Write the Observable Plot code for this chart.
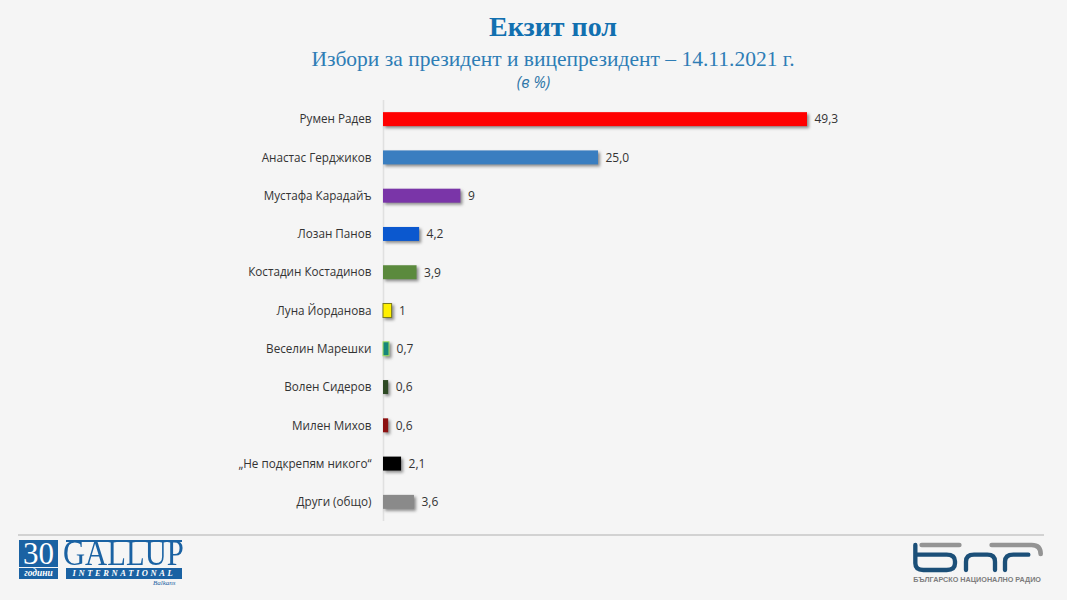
<!DOCTYPE html>
<html><head><meta charset="utf-8">
<script src="https://cdn.jsdelivr.net/npm/d3@7"></script>
<script src="https://cdn.jsdelivr.net/npm/@observablehq/plot@0.6"></script>
<style>
html,body{margin:0;padding:0;background:#f5f5f5;width:1067px;height:600px;overflow:hidden}
#page{position:relative;width:1067px;height:600px}
.t{position:absolute;white-space:nowrap;text-align:center}
#title{left:0;width:1106px;top:11px;font:bold 28px "Liberation Serif",serif;color:#1270b0}
#sub{left:0;width:1106px;top:47px;font:21.5px "Liberation Serif",serif;color:#2e7db5}
#unit{left:0;width:1067px;top:71px;font:italic 15.5px "Open Sans",sans-serif;color:#2e75a8}
#chart{position:absolute;left:0;top:99px}
#chart svg{display:block;background:transparent}
#chart g[aria-label="bar"]{filter:drop-shadow(2px 2px 1.5px rgba(70,70,70,.6))}
.rule{position:absolute;top:534px;height:2px;background:#d2d2d2}
</style></head><body>
<div id="page">
<div class="t" id="title">Екзит пол</div>
<div class="t" id="sub">Избори за президент и вицепрезидент – 14.11.2021 г.</div>
<div class="t" id="unit">(в %)</div>
<div id="chart"></div>
<div class="rule" style="left:18px;width:1026px"></div>
<div style="position:absolute;left:19px;top:540px;width:39px;height:39px;background:#1a62a3;color:#fff;text-align:center;font-family:'Liberation Serif',serif">
  <div style="font-size:31px;line-height:27px;height:27px">30</div>
  <div style="font-size:9.5px;line-height:11px;font-style:italic;font-weight:bold;border-top:1px solid #f5f5f5">години</div>
</div>
<div style="position:absolute;left:66px;top:540px;width:116px;height:1.5px;background:#1a62a3"></div>
<div class="t" style="left:63px;top:541px;font:35px/26px 'Liberation Serif',serif;color:#1a62a3;transform:scaleX(.875);transform-origin:left top">GALLUP</div>
<div class="t" style="left:66px;top:568px;width:116px;height:11px;background:#1a62a3;color:#fff;font:italic bold 8.5px/11px 'Liberation Serif',serif;letter-spacing:2.6px">INTERNATIONAL</div>
<div class="t" style="left:153px;top:579px;font:italic 7px 'Liberation Serif',serif;color:#1a62a3">Balkans</div>
<svg style="position:absolute;left:880px;top:520px" width="187" height="80" viewBox="0 0 561 240">
  <g fill="none" stroke-linecap="round">
    <path d="M125 75H238M335 75H455Q482 75 482 102" stroke="#949494" stroke-width="14"/>
    <path d="M106 75V130Q106 150 130 150H200Q225 150 225 130V124Q225 104 200 104H106" stroke="#1b4f78" stroke-width="13"/>
    <path d="M258 150V125Q258 104 282 104H322Q345 104 345 125V150M375 150V125Q375 104 400 104H445" stroke="#1b4f78" stroke-width="13"/>
  </g>
  <text x="100" y="186" font-family="Liberation Sans,sans-serif" font-weight="bold" font-size="19" fill="#7d7d7d" textLength="383" lengthAdjust="spacingAndGlyphs">БЪЛГАРСКО НАЦИОНАЛНО РАДИО</text>
</svg>
</div>
<script>
const names = ["Румен Радев","Анастас Герджиков","Мустафа Карадайъ","Лозан Панов","Костадин Костадинов","Луна Йорданова","Веселин Марешки","Волен Сидеров","Милен Михов","„Не подкрепям никого“","Други (общо)"];
const values = [49.3,25.0,9,4.2,3.9,1,0.7,0.6,0.6,2.1,3.6];
const valueLabels = ["49,3","25,0","9","4,2","3,9","1","0,7","0,6","0,6","2,1","3,6"];
const colors = ["#ff0000","#3a7ec0","#7a35a8","#0b58cf","#5b8a3d","#fff000","#16877a","#2e4a24","#8c1010","#000000","#8a8a8a"];
const strokes = [null,null,null,null,null,"#7a7a20","#a8e060",null,null,null,null];
const rows = names.map((name,i)=>({name,value:values[i],label:valueLabels[i],color:colors[i],stroke:strokes[i]||"none"}));
const plot = Plot.plot({
  width:1067,height:423,marginLeft:383,marginRight:260,marginTop:1,marginBottom:1,
  style:{background:"transparent",overflow:"visible"},
  x:{domain:[0,49.3],axis:null},
  y:{domain:names,paddingInner:0.635,paddingOuter:0.3175,round:false,label:null},
  marks:[
    Plot.axisY({tickSize:0,tickPadding:12,fontSize:11.7,fontFamily:"Open Sans",fill:"#333",label:null}),
    Plot.ruleX([0],{stroke:"#e0e0e0",strokeWidth:1.5}),
    Plot.barX(rows,{x:"value",y:"name",fill:d=>d.color,stroke:d=>d.stroke,strokeWidth:1}),
    Plot.text(rows,{x:"value",y:"name",text:"label",textAnchor:"start",dx:7,fontSize:12,fontFamily:"Open Sans",fill:"#333"})
  ]
});
document.getElementById("chart").appendChild(plot);
</script>
</body></html>
